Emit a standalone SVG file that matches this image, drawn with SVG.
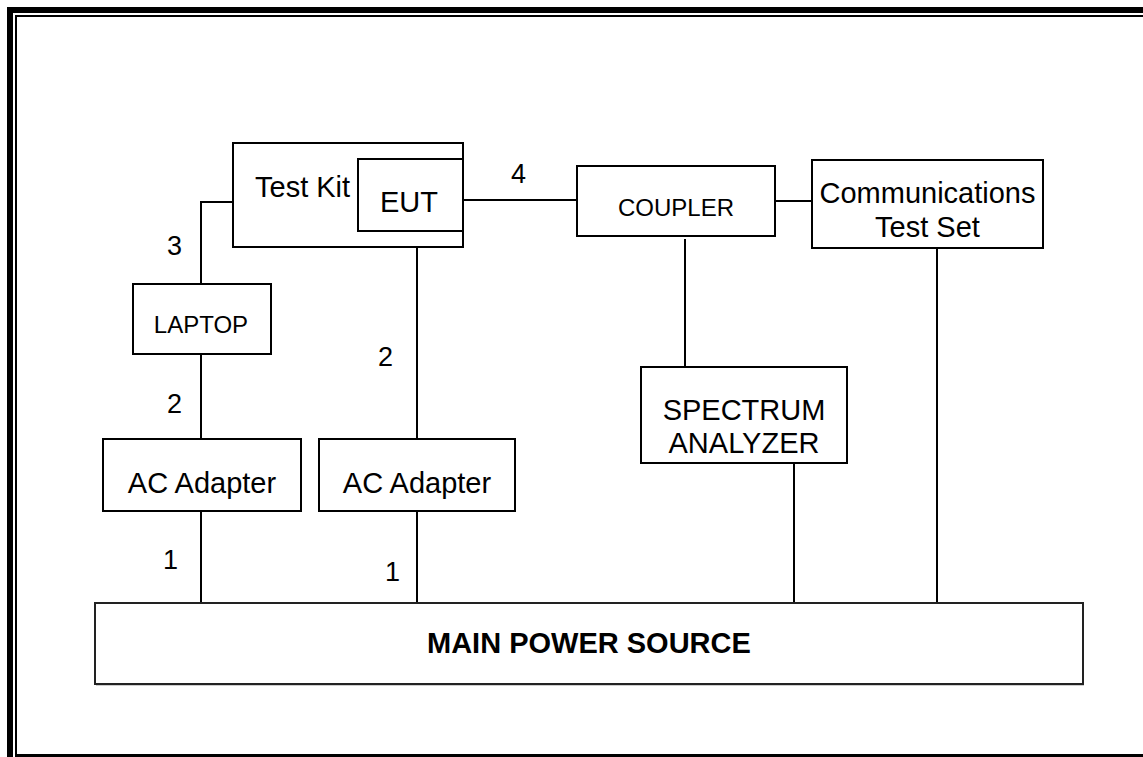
<svg xmlns="http://www.w3.org/2000/svg" width="1143" height="757" viewBox="0 0 1143 757">
<style>
.box{fill:#fff;stroke:#000;stroke-width:2}
.ln{stroke:#000;stroke-width:2;fill:none}
.t{font-family:"Liberation Sans",Arial,sans-serif;font-size:29px;fill:#000}
.s{font-family:"Liberation Sans",Arial,sans-serif;font-size:24px;fill:#000}
.n{font-family:"Liberation Sans",Arial,sans-serif;font-size:27px;fill:#000}
.b{font-family:"Liberation Sans",Arial,sans-serif;font-size:29px;font-weight:bold;fill:#000}
.c{text-anchor:middle}
</style>
<rect width="1143" height="757" fill="#fff"/>
<g id="border" fill="#000">
<rect x="7" y="7" width="1136" height="6"/>
<rect x="7" y="7" width="6" height="750"/>
<rect x="15" y="15" width="1128" height="2"/>
<rect x="15" y="15" width="2" height="742"/>
<rect x="15" y="754" width="1128" height="3"/>
</g>
<g id="connectors" class="ln">
<polyline points="233,202 201,202 201,284"/>
<line x1="201" y1="354" x2="201" y2="439"/>
<line x1="417" y1="247" x2="417" y2="439"/>
<line x1="201" y1="511" x2="201" y2="603"/>
<line x1="417" y1="511" x2="417" y2="603"/>
<line x1="463" y1="200" x2="577" y2="200"/>
<line x1="775" y1="201" x2="812" y2="201"/>
<line x1="685" y1="239" x2="685" y2="367"/>
<line x1="794" y1="463" x2="794" y2="603"/>
<line x1="937" y1="248" x2="937" y2="606"/>
</g>
<g id="labels">
<text class="n" x="511" y="183">4</text>
<text class="n" x="167" y="255">3</text>
<text class="n" x="167" y="413">2</text>
<text class="n" x="378" y="366">2</text>
<text class="n" x="163" y="569">1</text>
<text class="n" x="385" y="581">1</text>
</g>
<g id="testkit">
<rect class="box" x="233" y="143" width="230" height="104"/>
<text class="t" x="255" y="197">Test Kit</text>
</g>
<g id="eut">
<rect class="box" x="358" y="159" width="105" height="72"/>
<text class="t c" x="409" y="212">EUT</text>
</g>
<g id="laptop">
<rect class="box" x="133" y="284" width="138" height="70"/>
<text class="s c" x="201" y="333">LAPTOP</text>
</g>
<g id="acadapter1">
<rect class="box" x="103" y="439" width="198" height="72"/>
<text class="t c" x="202" y="493">AC Adapter</text>
</g>
<g id="acadapter2">
<rect class="box" x="319" y="439" width="196" height="72"/>
<text class="t c" x="417" y="493">AC Adapter</text>
</g>
<g id="coupler">
<rect class="box" x="577" y="166" width="198" height="70"/>
<text class="s c" x="676" y="216">COUPLER</text>
</g>
<g id="commtestset">
<rect class="box" x="812" y="160" width="231" height="88"/>
<text class="t c" x="927.5" y="203">Communications</text>
<text class="t c" x="927.5" y="237">Test Set</text>
</g>
<g id="spectrum">
<rect class="box" x="641" y="367" width="206" height="96"/>
<text class="t c" x="744" y="420">SPECTRUM</text>
<text class="t c" x="744" y="453">ANALYZER</text>
</g>
<g id="mainpower">
<rect x="96" y="605" width="988" height="81" fill="#ccc"/>
<rect class="box" x="95" y="603" width="988" height="81" style="stroke:#222"/>
<text class="b" x="427" y="653">MAIN POWER SOURCE</text>
</g>
</svg>
